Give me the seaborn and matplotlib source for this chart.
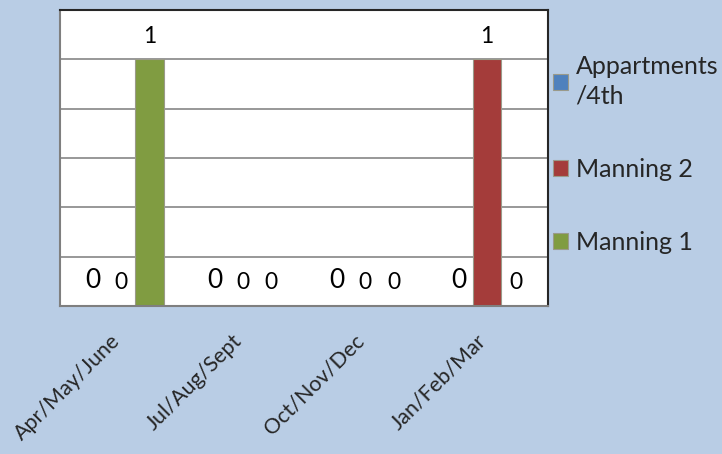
import pandas as pd
import matplotlib.pyplot as plt
import matplotlib.transforms as mtransforms
import seaborn as sns

# Chart values
categories = ['Apr/May/June', 'Jul/Aug/Sept', 'Oct/Nov/Dec', 'Jan/Feb/Mar']
series = ['Appartments\n/4th', 'Manning 2', 'Manning 1']
appartments = [0, 0, 0, 0]
manning_2 = [0, 0, 0, 1]
manning_1 = [1, 0, 0, 0]

df = pd.DataFrame({
    'Quarter': categories * 3,
    'Series': [s for s in series for _ in categories],
    'Count': appartments + manning_2 + manning_1,
})

sns.set_theme(style='white')
plt.rcParams['font.family'] = ['Lato', 'DejaVu Sans']

fig = plt.figure(figsize=(7.22, 4.54), dpi=100, facecolor='#B9CDE5')
ax = fig.add_axes([0.083, 0.326, 0.676, 0.652])
ax.set_facecolor('white')

palette = ['#4F81BD', '#A43C3A', '#809C41']
sns.barplot(data=df, x='Quarter', y='Count', hue='Series', hue_order=series,
            order=categories, palette=palette, width=0.7, saturation=1,
            edgecolor='#9a9a8a', linewidth=0.8, ax=ax)

# Data labels (first series drawn a bit larger, as in the original)
for i, cont in enumerate(ax.containers):
    ax.bar_label(cont, padding=9, fontsize=19 if i == 0 else 16.5, color='black')

ax.set_ylim(0, 1.2)
ax.set_yticks([0, 0.2, 0.4, 0.6, 0.8, 1.0, 1.2])
ax.set_yticklabels([])
ax.yaxis.grid(True, color='#868686', linewidth=1.2)
ax.set_axisbelow(True)
ax.tick_params(axis='both', length=0)
ax.tick_params(axis='x', pad=12)
ax.set_xlabel('')
ax.set_ylabel('')
shift = mtransforms.ScaledTranslation(-11 / 100, -8 / 100, fig.dpi_scale_trans)
for lab in ax.get_xticklabels():
    lab.set_rotation(45)
    lab.set_ha('right')
    lab.set_rotation_mode('anchor')
    lab.set_fontsize(15.5)
    lab.set_transform(lab.get_transform() + shift)

for side in ['top', 'right']:
    ax.spines[side].set_color('#262626')
    ax.spines[side].set_linewidth(1.5)
for side in ['left', 'bottom']:
    ax.spines[side].set_color('#7f7f7f')
    ax.spines[side].set_linewidth(1.5)

leg = ax.legend(loc='upper left', bbox_to_anchor=(553 / 722, 1 - 55 / 454),
                bbox_transform=fig.transFigure, frameon=False, fontsize=18,
                borderpad=0, borderaxespad=0, labelspacing=2.0,
                handlelength=0.6, handleheight=0.6, handletextpad=0.3)
for t in leg.get_texts():
    t.set_linespacing(1.35)

fig.savefig('out.png', dpi=100, facecolor=fig.get_facecolor())
